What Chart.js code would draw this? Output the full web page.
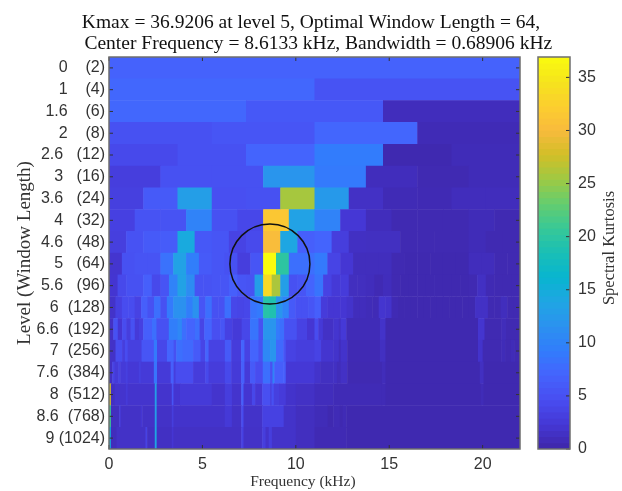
<!DOCTYPE html>
<html>
<head>
<meta charset="utf-8">
<script src="https://cdn.jsdelivr.net/npm/chart.js@4"></script>
<style>
  body { margin: 0; background: #fff; }
  #wrap { position: relative; width: 622px; height: 491px; overflow: hidden; }
  #main { position: absolute; left: 0; top: 0; }
  #bar { position: absolute; left: 525px; top: 0; }
</style>
</head>
<body>
<div id="wrap">
  <canvas id="main" width="622" height="491"></canvas>
  <canvas id="bar" width="97" height="491"></canvas>
</div>
<script>
// tick labels
const levels = ['0', '1', '1.6', '2', '2.6', '3', '3.6', '4', '4.6', '5', '5.6', '6', '6.6', '7', '7.6', '8', '8.6', '9'];
const windows = [2, 4, 6, 8, 12, 16, 24, 32, 48, 64, 96, 128, 192, 256, 384, 512, 768, 1024];
const freqTicks = [0, 5, 10, 15, 20];
const kurtosisTicks = [0, 5, 10, 15, 20, 25, 30, 35];
const maxFreq = 22;
const kmax = 36.9206;

// coarse levels: equal width bands over 0-22 kHz
const level0 = [6.8];
const level1 = [7.3, 5.2];
const level1_6 = [7.3, 5.8, 1];
const level2 = [5, 5.5, 7.2, 0.7];
const level2_6 = [4.2, 5, 7, 9.2, 0.4, 0.8];
const level3 = [3, 5, 5, 12, 9, 1, 0.5, 0.8];
const level3_6 = [3.2, 6, 13, 4.8, 5, 25.8, 12.5, 1.5, 0.7, 0.6, 1, 1];
const level4 = [3.3, 5.2, 5.2, 10, 5, 4, 31.5, 13.5, 10, 2.3, 1, 0.5, 0.5, 0.5, 0.8, 0.5];
const level4_6 = [3.1, 5.1, 6, 6.2, 14.5, 5.8, 5.5, 3.6, 4.3, 30.3, 14, 6.5, 7, 3, 1.4, 1.3, 1.3, 0.5, 0.5, 0.5, 0.5, 0.8, 0.5, 0.5];
const level5 = [2, 5, 5.3, 5.3, 8.3, 13.5, 9.5, 6, 5.5, 5, 3, 5.5, 36.92, 20, 8, 8,
  9, 3.7, 2.2, 1.1, 1.1, 1.1, 0.5, 0.4, 0.4, 0.4, 0.4, 0.4, 1, 1, 0.5, 0.5];
const level5_6 = [2.1, 4.2, 5, 5, 6.5, 4.2, 5.3, 10, 13.5, 11, 5.2, 5.2,
  5.5, 5.5, 6.5, 5.5, 5.2, 13, 33.5, 26, 13, 5, 5.5, 7,
  8.5, 3.5, 2.5, 2.7, 1.2, 1.2, 1, 0.6, 1, 0.5, 0.4, 0.4,
  0.4, 0.4, 0.4, 0.4, 0.4, 0.4, 0.5, 1.4, 0.6, 0.5, 0.5, 0.5];
const level6 = [1.7, 3.3, 4.5, 4.5, 3.5, 6.5, 5, 8, 5, 9, 11.5, 11.5, 9.5, 11.5, 5.5, 8,
  5, 5, 8, 4, 3.8, 4, 8.5, 9, 19.5, 19, 12, 10, 6, 5, 5, 5.5,
  6.5, 2.7, 2.2, 2.2, 2.2, 1.8, 1, 1, 0.8, 0.7, 2, 1.8, 0.6, 0.4, 0.4, 0.4,
  0.4, 0.4, 0.4, 0.4, 0.4, 0.4, 0.4, 0.4, 0.4, 1.5, 1.5, 0.5, 0.5, 1.1, 0.5, 0.5];

// fine levels: [band start in kHz, kurtosis]
const level6_6 = [[0, 1.5], [0.23, 5], [0.47, 2.2], [0.7, 4.5], [0.93, 3], [1.15, 5], [1.38, 2.6], [1.6, 3.3], [1.83, 6.5],
  [2.3, 8], [2.54, 5], [3.2, 9.5], [3.67, 10.5], [3.9, 8], [4.13, 7], [4.6, 8], [4.85, 3.8], [5.1, 7], [5.5, 4.8], [5.95, 5.5],
  [6.2, 3.4], [6.6, 2.6], [7.1, 4], [7.55, 8.5], [8, 5], [8.25, 12], [8.94, 9], [9.15, 8], [9.37, 5], [10.05, 3.5], [10.6, 2.2],
  [11, 4.5], [11.2, 2.5], [11.45, 1.5], [12, 2], [12.3, 1.5], [12.4, 2.5], [12.7, 0.8], [14.5, 1.7], [14.8, 0.4],
  [19.75, 2], [20.1, 0.5], [21, 0.9], [21.25, 0.5]];
const level7 = [[0, 1.6], [0.35, 4.5], [0.7, 3], [0.85, 4.5], [1, 3.2], [1.74, 5.5], [2.4, 9], [2.57, 4], [3.1, 7], [3.46, 5],
  [3.6, 8], [3.94, 7.5], [4.5, 6], [4.9, 3.8], [5.15, 7], [5.33, 3.5], [6.2, 6], [6.54, 2.8], [7.07, 7], [7.25, 3.5],
  [7.55, 7], [8, 5], [8.23, 10.5], [8.62, 12], [8.94, 7.5], [9.33, 5.5], [9.46, 3.5], [10, 3], [11, 3.6], [11.35, 2], [12, 1.8],
  [12.3, 1], [12.4, 1.8], [12.75, 0.6], [14.5, 1.3], [14.8, 0.4], [19.75, 1.8], [20, 0.5], [21, 0.8], [21.2, 0.5], [21.5, 0.8], [21.7, 0.5]];
const level7_6 = [[0, 1.4], [0.17, 3.6], [0.3, 2.6], [0.5, 3.6], [0.6, 2.6], [0.9, 3.2], [1, 2.4], [1.6, 3.2], [1.7, 2.6],
  [2.4, 8.5], [2.57, 2.6], [3.3, 6.5], [3.46, 3], [3.56, 4.5], [4.5, 2.8], [5.15, 4.2], [5.33, 2.8], [6.2, 4.2], [6.54, 2.6],
  [7.07, 6.5], [7.25, 2.6], [7.55, 6], [7.82, 4.5], [8.23, 8], [8.62, 5], [8.75, 10], [8.85, 6.5], [9.33, 6.5], [9.46, 2.4],
  [11, 1.8], [11.3, 1.3], [12, 1.4], [12.2, 0.9], [12.4, 1.5], [12.75, 0.5], [14.6, 0.9], [14.8, 0.4], [19.85, 1.3], [20.05, 0.4]];
const level8 = [[0, 28], [0.1, 1.4], [0.3, 1.9], [0.9, 2.6], [1, 1.9], [2.45, 13], [2.55, 1.9], [3.36, 5.5], [3.45, 2.1],
  [3.8, 2.6], [5.5, 1.9], [6.2, 3], [6.58, 1.9], [7.08, 6.5], [7.2, 2.1], [7.65, 4], [7.82, 2.3], [8.2, 4.8], [8.62, 3.2],
  [8.7, 5], [8.82, 3.2], [9.1, 2.7], [9.46, 1.8], [10, 1.5], [11, 1], [12, 0.7], [14.6, 0.7], [14.8, 0.4], [19.9, 0.8], [20.05, 0.4]];
const level8_6 = [[0, 21], [0.1, 1.2], [0.55, 3], [0.62, 1.6], [1.7, 2.2], [1.78, 1.6], [2.45, 13], [2.55, 1.6], [3.36, 3],
  [3.45, 1.8], [6.2, 2.5], [6.58, 1.6], [7.08, 4.5], [7.2, 1.7], [8.2, 3.4], [9.35, 1.7], [10, 1.2], [11, 0.8], [11.7, 0.4], [12, 0.7],
  [12.35, 0.4], [12.5, 0.7], [12.7, 0.4]];
const level9 = [[0, 15], [0.1, 1], [0.4, 1.6], [1.95, 3.5], [2.04, 1.4], [2.45, 14], [2.55, 1.4], [3.36, 2.2], [3.45, 1.5],
  [7.08, 3.5], [7.2, 1.6], [8.2, 3], [8.38, 1.8], [8.55, 3], [8.72, 1.7], [10, 1.2], [11, 0.6], [12.7, 0.4]];

const kurtosisByLevel = [level0, level1, level1_6, level2, level2_6, level3, level3_6, level4, level4_6, level5, level5_6,
  level6, level6_6, level7, level7_6, level8, level8_6, level9];

// parula, sampled
const parula = [[62, 38, 168], [69, 55, 213], [72, 77, 240], [69, 99, 253], [50, 124, 252], [43, 145, 239], [32, 165, 227],
  [8, 181, 208], [25, 191, 182], [55, 200, 151], [100, 205, 111], [157, 201, 67], [209, 191, 39], [248, 186, 61],
  [252, 206, 46], [245, 228, 29], [249, 251, 14]];

function colourFor(value) {
  const t = Math.min(value / kmax, 1) * (parula.length - 1);
  const i = Math.min(Math.floor(t), parula.length - 2);
  const c = parula[i].map((v, k) => Math.round(v + (parula[i + 1][k] - v) * (t - i)));
  return `rgb(${c[0]},${c[1]},${c[2]})`;
}

// padding between the two columns depends on how long the window number is
const rowLabels = levels.map((lvl, i) => lvl + ' '.repeat(5 - String(windows[i]).length) + '(' + windows[i] + ')');

// small overlap so the canvas does not leave hairlines between neighbouring cells
const seam = 0.03;

const cells = [];
const cellColours = [];
kurtosisByLevel.forEach((row, r) => {
  row.forEach((item, i) => {
    let from, to, value;
    if (Array.isArray(item)) {
      from = item[0];
      to = i + 1 < row.length ? row[i + 1][0] : maxFreq;
      value = item[1];
    } else {
      from = i * maxFreq / row.length;
      to = (i + 1) * maxFreq / row.length;
      value = item;
    }
    cells.push({ x: [from, Math.min(to + seam, maxFreq)], y: rowLabels[r] });
    cellColours.push(colourFor(value));
  });
});

const sansFont = 'Liberation Sans';
const serifFont = 'Liberation Serif';
const textColour = '#333';
const frameColour = '#6e6e6e';

// MATLAB style box with ticks pointing inwards
const boxPlugin = {
  id: 'box',
  afterDraw(chart, args, opts) {
    const { ctx, chartArea: a, scales } = chart;
    ctx.save();
    ctx.strokeStyle = '#333';
    ctx.lineWidth = 1;
    ctx.beginPath();
    if (scales.x && scales.x.options.display) {
      scales.x.ticks.forEach((t, i) => {
        const px = scales.x.getPixelForTick(i);
        ctx.moveTo(px, a.bottom); ctx.lineTo(px, a.bottom - 4);
        ctx.moveTo(px, a.top); ctx.lineTo(px, a.top + 4);
      });
    }
    scales.y.ticks.forEach((t, i) => {
      const py = scales.y.getPixelForTick(i);
      ctx.moveTo(a.right, py); ctx.lineTo(a.right - 4, py);
      if (opts.bothSides) { ctx.moveTo(a.left, py); ctx.lineTo(a.left + 4, py); }
    });
    ctx.stroke();
    ctx.strokeStyle = frameColour;
    ctx.lineWidth = 1.5;
    ctx.strokeRect(a.left, a.top, a.right - a.left, a.bottom - a.top);
    ctx.restore();
  }
};

Chart.defaults.animation = false;
Chart.defaults.devicePixelRatio = 1;

new Chart(document.getElementById('main'), {
  type: 'bar',
  plugins: [boxPlugin],
  data: {
    labels: rowLabels,
    datasets: [
      {
        type: 'bubble',
        data: [{ x: 8.6133, y: rowLabels[9] }],
        radius: 40,
        borderWidth: 1.5,
        borderColor: '#111',
        backgroundColor: 'rgba(0,0,0,0)',
        order: 0
      },
      {
        type: 'bar',
        indexAxis: 'y',
        data: cells,
        backgroundColor: cellColours,
        borderWidth: 0,
        barPercentage: 1.02,
        categoryPercentage: 1,
        order: 1
      }
    ]
  },
  options: {
    indexAxis: 'y',
    responsive: false,
    layout: { padding: 0 },
    plugins: {
      legend: { display: false },
      tooltip: { enabled: false },
      box: { bothSides: true },
      title: {
        display: true,
        text: ['Kmax = 36.9206 at level 5, Optimal Window Length = 64,', '   Center Frequency = 8.6133 kHz, Bandwidth = 0.68906 kHz'],
        color: '#111',
        font: { family: serifFont, size: 19.5, weight: 'normal', lineHeight: 1.09 },
        padding: { top: 12.4, bottom: 2.1 }
      }
    },
    scales: {
      x: {
        type: 'linear',
        min: 0,
        max: maxFreq,
        afterBuildTicks(scale) { scale.ticks = freqTicks.map(v => ({ value: v })); },
        grid: { display: false, tickLength: 0 },
        border: { display: false },
        ticks: { color: textColour, font: { family: sansFont, size: 16 }, padding: 6, maxRotation: 0 },
        title: { display: true, text: 'Frequency (kHz)      ', color: textColour, font: { family: serifFont, size: 15.5 }, padding: { top: 2, bottom: 0 } },
        afterFit(scale) { scale.height = 42; }
      },
      y: {
        type: 'category',
        grid: { display: false, tickLength: 0 },
        border: { display: false },
        ticks: { color: textColour, font: { family: sansFont, size: 16 }, padding: 4, autoSkip: false, maxRotation: 0 },
        title: { display: true, text: 'Level (Window Length)', color: textColour, font: { family: serifFont, size: 19 }, padding: { top: 14, bottom: 0 } },
        afterFit(scale) { scale.width = 109; }
      },
      // keeps room for the colorbar so the title stays centred on the whole figure
      spare: {
        type: 'linear',
        position: 'right',
        axis: 'y',
        grid: { display: false },
        border: { display: false },
        ticks: { display: false },
        afterFit(scale) { scale.width = 102; }
      }
    }
  }
});

// colorbar, one bar per colour level
const barLevels = 64;
const barCells = [];
const barColours = [];
for (let i = 0; i < barLevels; i++) {
  barCells.push({ x: 'k', y: [i * kmax / barLevels, Math.min((i + 1.2) * kmax / barLevels, kmax)] });
  barColours.push(colourFor((i + 0.5) * kmax / barLevels));
}

const barTitlePlugin = {
  id: 'barTitle',
  afterDraw(chart) {
    const { ctx, chartArea: a } = chart;
    ctx.save();
    ctx.translate(85, (a.top + a.bottom) / 2 - 5);
    ctx.rotate(-Math.PI / 2);
    ctx.textAlign = 'center';
    ctx.textBaseline = 'middle';
    ctx.fillStyle = textColour;
    ctx.font = `16.5px "${serifFont}"`;
    ctx.fillText('Spectral Kurtosis', 0, 0);
    ctx.restore();
  }
};

new Chart(document.getElementById('bar'), {
  type: 'bar',
  plugins: [boxPlugin, barTitlePlugin],
  data: {
    labels: ['k'],
    datasets: [{ data: barCells, backgroundColor: barColours, borderWidth: 0, barPercentage: 1, categoryPercentage: 1 }]
  },
  options: {
    responsive: false,
    layout: { padding: { left: 13, right: 0, top: 57, bottom: 42 } },
    plugins: { legend: { display: false }, tooltip: { enabled: false } },
    scales: {
      x: { display: false },
      y: {
        position: 'right',
        min: 0,
        max: kmax,
        afterBuildTicks(scale) { scale.ticks = kurtosisTicks.map(v => ({ value: v })); },
        grid: { display: false, tickLength: 0 },
        border: { display: false },
        ticks: { color: textColour, font: { family: sansFont, size: 16 }, padding: 8 },
        afterFit(scale) { scale.width = 52; }
      }
    }
  }
});
</script>
</body>
</html>
